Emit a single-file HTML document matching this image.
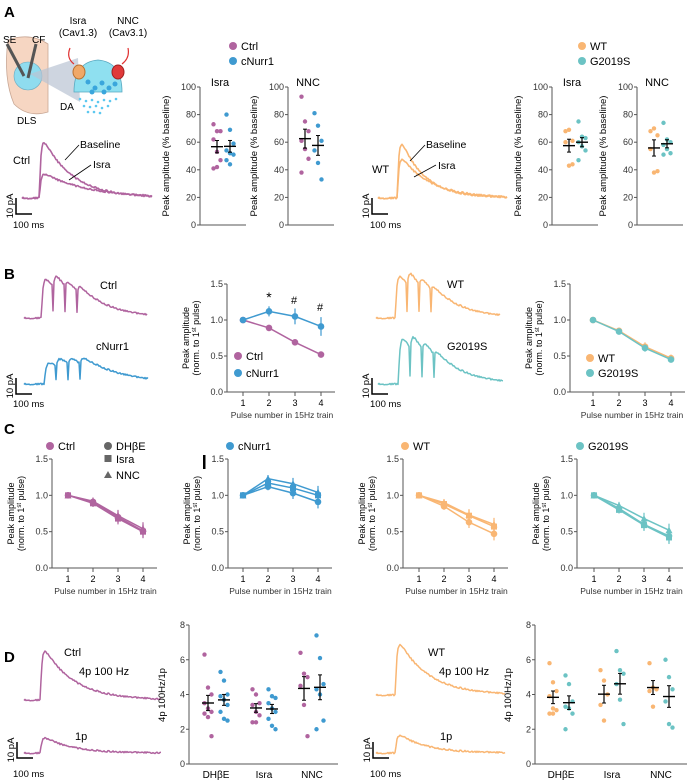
<!DOCTYPE html>
<html><head><meta charset="utf-8"><style>
body{margin:0;background:#fff}
svg{display:block;font-family:"Liberation Sans",Arial,sans-serif}
</style></head><body>
<svg id="fig" width="690" height="783" viewBox="0 0 690 783" xmlns="http://www.w3.org/2000/svg">
<g>
<path d="M8 40 Q3 78 14 104 Q28 118 48 112 L48 44 Q30 32 8 40Z" fill="#f6d6c2" stroke="#c9a896" stroke-width="0.8"/>
<circle cx="28" cy="76" r="14" fill="#8fdcef" stroke="#6aa9bf" stroke-width="0.6"/>
<path d="M30 74 L78 58 L80 102 Z" fill="#b9c3d3" opacity="0.7"/>
<line x1="7" y1="44" x2="24" y2="76" stroke="#555" stroke-width="3"/>
<line x1="36" y1="44" x2="28" y2="78" stroke="#555" stroke-width="3"/>
<path d="M74 92 Q74 62 98 60 Q122 62 122 92 Z" fill="#8fe0f0" stroke="#5aa8c0" stroke-width="0.8"/>
<ellipse cx="79" cy="72" rx="6" ry="7" fill="#f0a868" stroke="#b87030"/>
<ellipse cx="118" cy="72" rx="6" ry="7" fill="#e03a3a" stroke="#a02020"/>
<path d="M70 48 Q66 58 74 64" stroke="#e03030" fill="none" stroke-width="1.2"/>
<path d="M128 48 Q130 58 122 64" stroke="#e03030" fill="none" stroke-width="1.2"/>
<g fill="#3aa6dc">
<circle cx="88" cy="82" r="2.5"/><circle cx="95" cy="88" r="2.5"/><circle cx="102" cy="83" r="2.5"/><circle cx="109" cy="88" r="2.5"/><circle cx="115" cy="84" r="2.5"/><circle cx="92" cy="92" r="2.5"/><circle cx="104" cy="92" r="2.5"/>
</g>
<g fill="#5cc8f0">
<circle cx="80" cy="99" r="1.3"/><circle cx="86" cy="101" r="1.3"/><circle cx="92" cy="100" r="1.3"/><circle cx="98" cy="102" r="1.3"/><circle cx="104" cy="100" r="1.3"/><circle cx="110" cy="101" r="1.3"/><circle cx="116" cy="99" r="1.3"/><circle cx="84" cy="106" r="1.3"/><circle cx="90" cy="107" r="1.3"/><circle cx="96" cy="106" r="1.3"/><circle cx="102" cy="108" r="1.3"/><circle cx="108" cy="106" r="1.3"/><circle cx="94" cy="112" r="1.3"/><circle cx="100" cy="113" r="1.3"/><circle cx="88" cy="112" r="1.3"/>
</g>
<text x="78" y="24" font-size="10" text-anchor="middle">Isra</text>
<text x="78" y="36" font-size="10" text-anchor="middle">(Cav1.3)</text>
<text x="128" y="24" font-size="10" text-anchor="middle">NNC</text>
<text x="128" y="36" font-size="10" text-anchor="middle">(Cav3.1)</text>
<text x="3" y="43" font-size="10">SE</text>
<text x="32" y="43" font-size="10">CF</text>
<text x="60" y="110" font-size="10">DA</text>
<text x="17" y="124" font-size="10">DLS</text>
</g>
</svg>
<script>
const NS='http://www.w3.org/2000/svg';
const svg=document.getElementById('fig');
const C_CTRL='#b0649f',C_NURR='#3f9ad0',C_WT='#f9b673',C_G='#6cc3c4';

// ---- data ----
const aIsraCtrl=[73,68,68,62,53,47,41,42];
const aIsraNurr=[80,69,59,54,52,51,47,44];
const aNncCtrl=[93,75,68,61,55,48,38];
const aNncNurr=[81,72,61,54,45,33];
const aIsraWT=[68,69,61,60,43,44];
const aIsraG=[75,64,63,60,57,54,47];
const aNncWT=[68,70,65,55,38,39];
const aNncG=[74,62,60,58,55,52,51];
const pulseLabels=['1','2','3','4'];
const bCtrl=[1,0.89,0.69,0.52];
const bCtrlErr=[0,0.03,0.04,0.04];
const bNurr=[1,1.12,1.05,0.91];
const bNurrErr=[0,0.07,0.11,0.13];
const bWT=[1,0.85,0.63,0.47];
const bWTErr=[0,0.04,0.06,0.05];
const bG=[1,0.84,0.61,0.45];
const bGErr=[0,0.03,0.05,0.04];
const cCtrlD=[1,0.91,0.70,0.51],cCtrlI=[1,0.89,0.68,0.50],cCtrlN=[1,0.92,0.72,0.54];
const cNurrD=[1,1.12,1.03,0.91],cNurrI=[1,1.17,1.10,1.00],cNurrN=[1,1.23,1.16,1.04];
const cWTD=[1,0.85,0.63,0.47],cWTI=[1,0.88,0.72,0.57],cWTN=[1,0.90,0.73,0.60];
const cGD=[1,0.82,0.60,0.44],cGI=[1,0.80,0.59,0.42],cGN=[1,0.86,0.68,0.52];
const cErr=[0,0.05,0.08,0.09];
const dGroups=['DHβE','Isra','NNC'];
const dCtrlD=[6.3,4.4,4.0,3.5,3.2,3.0,2.9,2.7,1.6],dNurrD=[5.3,4.8,4.0,3.9,3.7,3.4,3.0,2.6,2.5];
const dCtrlI=[4.3,4.0,3.5,3.4,3.0,2.8,2.4,2.4],dNurrI=[4.3,3.9,3.8,3.5,3.2,3.0,2.6,2.2,2.0];
const dCtrlN=[6.4,5.2,5.0,4.5,3.4,1.6],dNurrN=[7.4,6.1,4.6,4.3,4.0,2.5,2.0];
const dWTD=[5.8,4.7,4.2,3.9,3.2,3.1,2.9,2.9],dGD=[5.1,4.6,3.6,3.3,3.2,2.9,2.0];
const dWTI=[5.4,4.8,4.0,3.4,2.5],dGI=[6.5,5.4,5.2,4.6,3.7,2.3];
const dWTN=[5.8,4.4,4.3,4.2,3.3],dGN=[6.0,5.0,4.3,3.6,2.3,2.1];
const aTicks=[0,20,40,60,80,100];
const bTicks=[0,0.5,1.0,1.5];
const dTicks=[0,2,4,6,8];

function mk(tag,attrs,name,parent){
  const e=document.createElementNS(NS,tag);
  for(const k in attrs)e.setAttribute(k,attrs[k]);
  
  
  (parent||svg).appendChild(e);return e;
}
function txt(x,y,s,size,name,extra,parent){
  const a=Object.assign({x:x,y:y,'font-size':size},extra||{});
  const t=mk('text',a,name,parent);t.textContent=s;return t;
}
function mean(a){return a.reduce((p,c)=>p+c,0)/a.length;}
function sem(a){const m=mean(a);return Math.sqrt(a.reduce((p,c)=>p+(c-m)*(c-m),0)/(a.length-1))/Math.sqrt(a.length);}

function yAxis(ax,y0,y1,vmax,ticks,fmt,name){
  const g=mk('g',{},name);
  const sc=v=>y0-(v/vmax)*(y0-y1);
  mk('line',{x1:ax,y1:sc(vmax),x2:ax,y2:y0,stroke:'#555','stroke-width':1},'y-axis-line',g);
  ticks.forEach(t=>{
    mk('line',{x1:ax-3,y1:sc(t),x2:ax,y2:sc(t),stroke:'#555'},'y-tick',g);
    txt(ax-4,sc(t)+3,fmt(t),9,'y-tick-label',{'text-anchor':'end',fill:'#333'},g);
  });
  return sc;
}
function scatterSet(vals,cx,color,sc,name){
  const g=mk('g',{},name);
  vals.forEach((v,i)=>{
    const dx=((i%3)-1)*3.5;
    mk('circle',{cx:cx+dx,cy:sc(v),r:2.2,fill:color},'data-point',g);
  });
  const m=mean(vals),s=sem(vals);
  mk('line',{x1:cx-6,y1:sc(m),x2:cx+6,y2:sc(m),stroke:'#000','stroke-width':1.4},'mean-line',g);
  mk('line',{x1:cx,y1:sc(m+s),x2:cx,y2:sc(m-s),stroke:'#000','stroke-width':1.2},'sem-bar',g);
  mk('line',{x1:cx-2,y1:sc(m+s),x2:cx+2,y2:sc(m+s),stroke:'#000'},'sem-cap',g);
  mk('line',{x1:cx-2,y1:sc(m-s),x2:cx+2,y2:sc(m-s),stroke:'#000'},'sem-cap',g);
}
function aChart(ax,title,d1,d2,c1,c2,name){
  const g=mk('g',{},name);
  const sc=yAxis(ax,225,87,100,aTicks,t=>String(t),name+'-y-axis');
  mk('line',{x1:ax,y1:225,x2:ax+46,y2:225,stroke:'#555'},'x-axis-line',g);
  txt(ax+20,86,title,11,'chart-title',{'text-anchor':'middle'},g);
  txt(0,0,'Peak amplitude (% baseline)',9.5,'y-axis-title',{'text-anchor':'middle',transform:`translate(${ax-31},156) rotate(-90)`},g);
  scatterSet(d1,ax+17,c1,sc,'series-1');
  scatterSet(d2,ax+30,c2,sc,'series-2');
}
function lineChart(ax,y0,y1,xs,series,name){
  const g=mk('g',{},name);
  const sc=yAxis(ax,y0,y1,1.5,bTicks,t=>t.toFixed(1),name+'-y-axis');
  const xsc=i=>xs[0]+i*(xs[1]-xs[0]);
  mk('line',{x1:ax,y1:y0,x2:xsc(3)+14,y2:y0,stroke:'#555'},'x-axis-line',g);
  pulseLabels.forEach((l,i)=>{
    mk('line',{x1:xsc(i),y1:y0,x2:xsc(i),y2:y0+4,stroke:'#555'},'x-tick',g);
    txt(xsc(i),y0+14,l,9,'x-tick-label',{'text-anchor':'middle'},g);
  });
  txt((xsc(0)+xsc(3))/2,y0+26,'Pulse number in 15Hz train',8.5,'x-axis-title',{'text-anchor':'middle',fill:'#333'},g);
  txt(0,0,'Peak amplitude',9,'y-axis-title',{'text-anchor':'middle',transform:`translate(${ax-38},${(y0+y1)/2}) rotate(-90)`},g);
  const t2=txt(0,0,'(norm. to 1',9,'y-axis-title',{'text-anchor':'middle',transform:`translate(${ax-28},${(y0+y1)/2}) rotate(-90)`},g);
  const sp=document.createElementNS(NS,'tspan');sp.setAttribute('baseline-shift','super');sp.setAttribute('font-size','6');sp.textContent='st';t2.appendChild(sp);
  const sp2=document.createElementNS(NS,'tspan');sp2.textContent=' pulse)';t2.appendChild(sp2);
  series.forEach(s=>{
    const sg=mk('g',{},s.name,g);
    const pts=s.vals.map((v,i)=>xsc(i)+','+sc(v)).join(' ');
    mk('polyline',{points:pts,fill:'none',stroke:s.color,'stroke-width':1.5},'series-line',sg);
    s.vals.forEach((v,i)=>{
      const e=s.err[i];
      if(e>0)mk('line',{x1:xsc(i),y1:sc(v+e),x2:xsc(i),y2:sc(v-e),stroke:s.color,'stroke-width':1.2},'error-bar',sg);
      const x=xsc(i),y=sc(v);
      if(s.marker==='square')mk('rect',{x:x-3,y:y-3,width:6,height:6,fill:s.color},'data-point',sg);
      else if(s.marker==='triangle')mk('polygon',{points:`${x},${y-3.5} ${x-3.5},${y+3} ${x+3.5},${y+3}`,fill:s.color},'data-point',sg);
      else mk('circle',{cx:x,cy:y,r:3.3,fill:s.color},'data-point',sg);
    });
  });
}
function dChart(ax,centers,sets,name){
  const g=mk('g',{},name);
  const sc=yAxis(ax,764,625,8,dTicks,t=>String(t),name+'-y-axis');
  mk('line',{x1:ax,y1:764,x2:centers[2]+26,y2:764,stroke:'#555'},'x-axis-line',g);
  txt(0,0,'4p 100Hz/1p',9.5,'y-axis-title',{'text-anchor':'middle',transform:`translate(${ax-24},695) rotate(-90)`},g);
  dGroups.forEach((l,i)=>txt(centers[i],778,l,10,'x-tick-label',{'text-anchor':'middle'},g));
  sets.forEach((s,i)=>{
    const grp=Math.floor(i/2);
    scatterSet(s.vals,centers[grp]+(i%2?8:-8),s.color,sc,s.name);
  });
}
function hash(i){const s=Math.sin(i*127.1+311.7)*43758.5453;return s-Math.floor(s);}
function trace(x0,x1,base,onset,peaks,spacing,tau,color,name,w){
  let d='';let k=0;
  for(let x=x0;x<=x1;x+=1){
    let y=0;
    peaks.forEach((A,i)=>{const t=x-(onset+i*spacing);if(t>=0)y+=A*Math.exp(-t/tau)*(1-Math.exp(-(t+0.6)/1.5));});
    for(let i=1;i<peaks.length;i++){const t=x-(onset+i*spacing);if(t>-2&&t<0)y*=0.2;}
    const n=(hash(k++)-0.5)*1.6;
    d+=(d?'L':'M')+x.toFixed(1)+' '+(base-y+n).toFixed(1);
  }
  mk('path',{d:d,fill:'none',stroke:color,'stroke-width':w||1.5,'stroke-linejoin':'round'},name);
}
function scaleBar(x,y,name,labelX,labelY){
  const g=mk('g',{},name);
  mk('path',{d:`M${x} ${y-16} L${x} ${y} L${x+16} ${y}`,fill:'none',stroke:'#000','stroke-width':1.5},'scale-bar',g);
  txt(0,0,'10 pA',9.5,'scale-pa-label',{'text-anchor':'middle',transform:`translate(${x-3},${y-8}) rotate(-90)`},g);
  txt(labelX,labelY,'100 ms',9.5,'scale-ms-label',{},g);
}
function legendDot(x,y,color,label,name){
  const g=mk('g',{},name);
  mk('circle',{cx:x,cy:y,r:4,fill:color},'legend-marker',g);
  txt(x+8,y+4,label,11,'legend-label',{},g);
}

// panel labels
txt(4,17,'A',15,'panel-label-a',{'font-weight':'bold'});
txt(4,279,'B',15,'panel-label-b',{'font-weight':'bold'});
txt(4,434,'C',15,'panel-label-c',{'font-weight':'bold'});
txt(4,662,'D',15,'panel-label-d',{'font-weight':'bold'});

// ===== A =====
trace(22,152,198,40,[66],0,30,C_CTRL,'ctrl-baseline-trace',1.6);
trace(22,152,198,40,[27],0,45,C_CTRL,'ctrl-isra-trace',1.6);
txt(13,164,'Ctrl',11,'ctrl-trace-label');
txt(80,148,'Baseline',10.5,'baseline-label');
txt(93,168,'Isra',10.5,'isra-label');
mk('line',{x1:79,y1:145,x2:65,y2:160,stroke:'#000','stroke-width':0.8},'baseline-pointer');
mk('line',{x1:91,y1:165,x2:69,y2:180,stroke:'#000','stroke-width':0.8},'isra-pointer');
scaleBar(16,214,'scale-bar-a-left',13,228);
legendDot(233,46,C_CTRL,'Ctrl','legend-ctrl');
legendDot(233,61,C_NURR,'cNurr1','legend-cnurr1');
aChart(200,'Isra',aIsraCtrl,aIsraNurr,C_CTRL,C_NURR,'chart-a-isra-ctrl');
aChart(288,'NNC',aNncCtrl,aNncNurr,C_CTRL,C_NURR,'chart-a-nnc-ctrl');

trace(378,507,198,398,[66],0,24,C_WT,'wt-baseline-trace',1.6);
trace(378,507,198,398,[46],0,30,C_WT,'wt-isra-trace',1.6);
txt(372,173,'WT',11,'wt-trace-label');
txt(426,148,'Baseline',10.5,'baseline-label-wt');
txt(438,169,'Isra',10.5,'isra-label-wt');
mk('line',{x1:425,y1:145,x2:410,y2:161,stroke:'#000','stroke-width':0.8},'baseline-pointer-wt');
mk('line',{x1:436,y1:165,x2:414,y2:177,stroke:'#000','stroke-width':0.8},'isra-pointer-wt');
scaleBar(372,214,'scale-bar-a-right',370,228);
legendDot(582,46,C_WT,'WT','legend-wt');
legendDot(582,61,C_G,'G2019S','legend-g2019s');
aChart(552,'Isra',aIsraWT,aIsraG,C_WT,C_G,'chart-a-isra-wt');
aChart(637,'NNC',aNncWT,aNncG,C_WT,C_G,'chart-a-nnc-wt');

// ===== B =====
trace(24,147,318,42,[46,16,8,8],12,30,C_CTRL,'ctrl-train-trace');
txt(100,289,'Ctrl',11,'ctrl-train-label');
trace(24,148,384,45,[24,10,7,8],12,40,C_NURR,'cnurr1-train-trace');
txt(96,350,'cNurr1',11,'cnurr1-train-label');
scaleBar(16,394,'scale-bar-b-left',13,407);
lineChart(227,392,284,[243,269],[
 {vals:bCtrl,err:bCtrlErr,color:C_CTRL,name:'series-ctrl'},
 {vals:bNurr,err:bNurrErr,color:C_NURR,name:'series-cnurr1'}],'chart-b-left');
txt(269,302,'*',14,'sig-star',{'text-anchor':'middle'});
txt(294,304,'#',11,'sig-hash-3',{'text-anchor':'middle'});
txt(320,311,'#',11,'sig-hash-4',{'text-anchor':'middle'});
legendDot(238,356,C_CTRL,'Ctrl','legend-b-ctrl');
legendDot(238,373,C_NURR,'cNurr1','legend-b-cnurr1');

trace(376,500,318,396,[50,18,10,6],12,28,C_WT,'wt-train-trace');
txt(447,288,'WT',11,'wt-train-label');
trace(378,503,384,399,[54,18,10,6],12,28,C_G,'g2019s-train-trace');
txt(447,350,'G2019S',11,'g2019s-train-label');
scaleBar(372,394,'scale-bar-b-right',370,407);
lineChart(570,392,284,[593,619],[
 {vals:bWT,err:bWTErr,color:C_WT,name:'series-wt'},
 {vals:bG,err:bGErr,color:C_G,name:'series-g2019s'}],'chart-b-right');
legendDot(590,358,C_WT,'WT','legend-b-wt');
legendDot(590,373,C_G,'G2019S','legend-b-g2019s');

// ===== C =====
const cPanels=[
 {ax:52,xs:[68,93],col:C_CTRL,d:[cCtrlD,cCtrlI,cCtrlN],lab:'Ctrl',lx:50,n:'ctrl'},
 {ax:228,xs:[243,268],col:C_NURR,d:[cNurrD,cNurrI,cNurrN],lab:'cNurr1',lx:230,n:'cnurr1'},
 {ax:403,xs:[419,444],col:C_WT,d:[cWTD,cWTI,cWTN],lab:'WT',lx:405,n:'wt'},
 {ax:577,xs:[594,619],col:C_G,d:[cGD,cGI,cGN],lab:'G2019S',lx:580,n:'g2019s'}];
cPanels.forEach(p=>{
  lineChart(p.ax,568,459,p.xs,[
   {vals:p.d[0],err:cErr,color:p.col,marker:'circle',name:'series-dhbe'},
   {vals:p.d[1],err:cErr,color:p.col,marker:'square',name:'series-isra'},
   {vals:p.d[2],err:cErr,color:p.col,marker:'triangle',name:'series-nnc'}],'chart-c-'+p.n);
  legendDot(p.lx,446,p.col,p.lab,'legend-c-'+p.n);
});
mk('circle',{cx:108,cy:446,r:4,fill:'#666'},'legend-dhbe-marker');
txt(116,450,'DHβE',11,'legend-dhbe-label');
mk('rect',{x:104.5,y:455,width:7,height:7,fill:'#666'},'legend-isra-marker');
txt(116,463,'Isra',11,'legend-isra-label');
mk('polygon',{points:'108,471 104,478 112,478',fill:'#666'},'legend-nnc-marker');
txt(116,479,'NNC',11,'legend-nnc-label');
mk('rect',{x:203,y:455,width:2.5,height:14,fill:'#000'},'legend-bar-glyph');

// ===== D =====
trace(24,161,700,41,[58],0,30,C_CTRL,'ctrl-4p-trace');
trace(24,161,753,41,[18],0,28,C_CTRL,'ctrl-1p-trace');
txt(64,656,'Ctrl',11,'ctrl-d-label');
txt(79,675,'4p 100 Hz',11,'4p-label');
txt(75,740,'1p',11,'1p-label');
scaleBar(17,758,'scale-bar-d-left',13,777);
dChart(189,[216,264,312],[
 {vals:dCtrlD,color:C_CTRL,name:'dhbe-ctrl'},{vals:dNurrD,color:C_NURR,name:'dhbe-cnurr1'},
 {vals:dCtrlI,color:C_CTRL,name:'isra-ctrl'},{vals:dNurrI,color:C_NURR,name:'isra-cnurr1'},
 {vals:dCtrlN,color:C_CTRL,name:'nnc-ctrl'},{vals:dNurrN,color:C_NURR,name:'nnc-cnurr1'}],'chart-d-left');

trace(376,505,695,396,[60],0,30,C_WT,'wt-4p-trace');
trace(376,505,753,396,[21],0,28,C_WT,'wt-1p-trace');
txt(428,656,'WT',11,'wt-d-label');
txt(439,675,'4p 100 Hz',11,'4p-label-wt');
txt(440,740,'1p',11,'1p-label-wt');
scaleBar(373,758,'scale-bar-d-right',370,777);
dChart(535,[561,612,661],[
 {vals:dWTD,color:C_WT,name:'dhbe-wt'},{vals:dGD,color:C_G,name:'dhbe-g2019s'},
 {vals:dWTI,color:C_WT,name:'isra-wt'},{vals:dGI,color:C_G,name:'isra-g2019s'},
 {vals:dWTN,color:C_WT,name:'nnc-wt'},{vals:dGN,color:C_G,name:'nnc-g2019s'}],'chart-d-right');
</script>
</body></html>
